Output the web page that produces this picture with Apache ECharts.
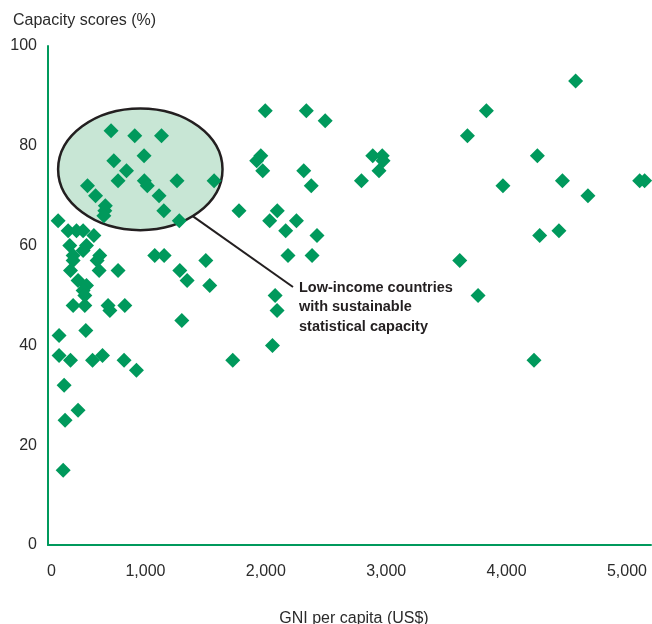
<!DOCTYPE html>
<html>
<head>
<meta charset="utf-8">
<script src="https://cdn.jsdelivr.net/npm/echarts@6/dist/echarts.min.js"></script>
<style>
html,body{margin:0;padding:0;background:#fff;}
#chart{width:652px;height:624px;}
</style>
</head>
<body>
<div id="chart"></div>
<script>
// GNI per capita (US$) for each country
const gniPerCapita = [
  274, 357, 427, 482, 571, 371, 510, 399, 482, 620, 598, 399, 377, 615, 772, 440, 510, 482, 496, 399, 496, 689, 704, 828,
  282, 504, 282, 377, 560, 643, 822, 925, 324, 440, 332, 316,
  714, 911, 1133, 737, 988, 842, 772, 990, 1015, 1262, 1570, 518, 585, 1113, 666, 662, 654, 1152, 1281,
  1777, 1077, 1155, 1501, 1285, 1346, 1534, 1302, 1725, 2055, 2093, 2077,
  1995, 2336, 2493, 1958, 1924, 1974, 2315, 2377, 2095, 2032, 2254, 2165, 2425, 2184, 2384,
  2888, 2967, 2974, 2940, 2794,
  4574, 3832, 3675, 4256, 3970, 4464, 4676, 5106, 5147, 4275, 4435, 3611, 3763, 4228
];
// Statistical capacity scores (%)
const capacityScore = [
  65, 63, 63, 63, 62, 60, 60, 58, 59, 58, 57, 57, 55, 55, 55, 53, 52, 51, 50, 48, 48, 48, 47, 48,
  42, 43, 38, 37, 37, 38, 37, 35, 32, 27, 25, 15,
  83, 82, 82, 77, 78, 75, 73, 73, 72, 73, 73, 72, 70, 70, 68, 67, 66, 67, 65,
  67, 58, 58, 57, 55, 53, 52, 45, 37, 40, 47, 50,
  87, 87, 85, 78, 77, 75, 75, 72, 67, 65, 65, 63, 62, 58, 58,
  78, 78, 77, 75, 73,
  93, 87, 82, 78, 72, 73, 70, 73, 73, 62, 63, 57, 50, 37
];
const yTickValues = [0, 20, 40, 60, 80, 100];
const xTickValues = [1000, 2000, 3000, 4000, 5000];
const xAxisStart = 190;   // axis origin, labelled "0" in the original
const xAxisEnd = 5200;
const annotationLines = ['Low-income countries', 'with sustainable', 'statistical capacity'];
// highlighted region (data space): centre and radii
const ellipseCenter = [957, 75.3];
const ellipseRadius = [683, 12.2];

const green = '#00995c';
const textColor = '#2b2b2b';
const fontFamily = '"Liberation Sans", Arial, sans-serif';

const points = gniPerCapita.map((g, i) => [g, capacityScore[i]]);

const chart = echarts.init(document.getElementById('chart'), null, {renderer: 'canvas'});
chart.setOption({
  animation: false,
  backgroundColor: '#ffffff',
  title: {
    text: 'Capacity scores (%)',
    left: 8, top: 8,
    textStyle: {fontSize: 16, fontWeight: 'normal', color: textColor, fontFamily}
  },
  grid: {left: 48, right: 1, top: 46, bottom: 79, containLabel: false, outerBoundsMode: 'none'},
  xAxis: {
    type: 'value',
    min: xAxisStart, max: xAxisEnd,
    name: 'GNI per capita (US$)',
    nameLocation: 'middle',
    nameGap: 66,
    nameTextStyle: {fontSize: 16, color: textColor, fontFamily, padding: [0, 0, 0, 9]},
    axisLine: {show: true, lineStyle: {color: green, width: 2}},
    axisTick: {show: false},
    splitLine: {show: false},
    axisLabel: {
      customValues: [xAxisStart].concat(xTickValues),
      formatter: v => v === xAxisStart ? '{z|0}' : v.toLocaleString('en-US'),
      rich: {z: {fontSize: 16, color: textColor, fontFamily, padding: [0, 0, 0, 7]}},
      fontSize: 16, color: textColor, fontFamily, margin: 19
    }
  },
  yAxis: {
    type: 'value',
    min: yTickValues[0], max: yTickValues[yTickValues.length - 1], interval: 20,
    axisLine: {show: true, lineStyle: {color: green, width: 2}},
    axisTick: {show: false},
    splitLine: {show: false},
    axisLabel: {fontSize: 16, color: textColor, fontFamily, margin: 11}
  },
  series: [{
    type: 'scatter',
    symbol: 'diamond',
    symbolSize: 15,
    itemStyle: {color: green, opacity: 1},
    data: points,
    z: 5
  }]
});

function drawAnnotation() {
  const c = chart.convertToPixel({gridIndex: 0}, ellipseCenter);
  const e = chart.convertToPixel({gridIndex: 0}, [ellipseCenter[0] + ellipseRadius[0], ellipseCenter[1] - ellipseRadius[1]]);
  const rx = e[0] - c[0], ry = e[1] - c[1];
  // leader line leaves the ellipse at about 40 degrees below the horizontal
  const ang = 0.88;
  const sx = c[0] + rx * Math.cos(ang), sy = c[1] + ry * Math.sin(ang);
  const tx = 299, ty = 287;
  chart.setOption({
    graphic: [
      {type: 'ellipse', z: 0, shape: {cx: c[0], cy: c[1], rx: rx, ry: ry},
       style: {fill: '#c8e6d5', stroke: '#231f20', lineWidth: 2.5}},
      {type: 'line', z: 0, shape: {x1: sx, y1: sy, x2: tx - 6, y2: ty},
       style: {stroke: '#231f20', lineWidth: 2}},
      {type: 'text', z: 10, left: tx, top: ty - 9,
       style: {text: annotationLines.join('\n'), fill: '#231f20', font: 'bold 14.5px ' + fontFamily, lineHeight: 19.5}}
    ]
  });
}
drawAnnotation();
</script>
</body>
</html>
